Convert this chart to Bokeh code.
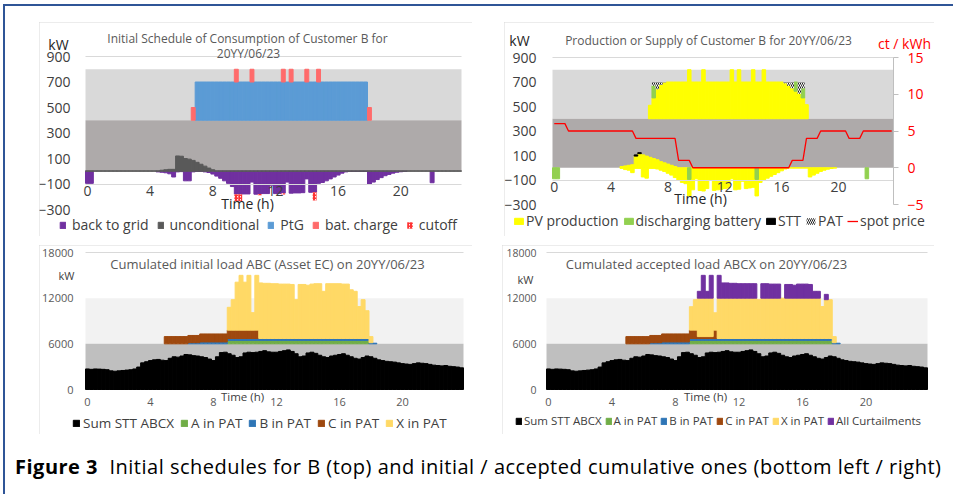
import numpy as np
from bokeh.plotting import figure
from bokeh.models import (Range1d, LinearAxis, FixedTicker, BoxAnnotation, Label, Legend,
                          LegendItem, ColumnDataSource, Div, Spacer, CDSView, BooleanFilter, Grid)
from bokeh.layouts import row, column
from bokeh.embed import file_html
from bokeh.resources import INLINE

FONT = "Open Sans"

# ---------------------------------------------------------------- data
hour_ticks = [0, 4, 8, 12, 16, 20]
slot_hours = [i * 0.25 for i in range(96)]          # 15-minute slots (centre, h)

# --- top left: initial schedule of consumption of customer B (kW)
back_to_grid = [
    -95, -95, 0, 0,   0, 0, 0, 0,   0, 0, 0, 0,   0, 0, 0, 0,
    0, 0, -5, -8,   -12, -20, -45, -5,   -3, -75, -75, -5,   -2, -2, -5, -10,
    -22, -38, -55, -75,   -95, -120, -180, -180,   -178, -178, -85, -180,
    -178, -175, -175, -110,   -175, -175, -172, -85,   -172, -170, -170, -168,
    -60, -165, -165, -95,   -88, -75, -60, -45,   -30, -15, -5, -2,
    -2, -2, -2, -2,   -100, -85, -65, -50,   -35, -25, -15, -8,
    -4, -2, 0, 0,   0, 0, 0, 0,   -90, 0, 0, 0,   0, 0, 0, 0]
unconditional = [
    3, 3, 3, 3,   3, 3, 3, 3,   3, 3, 3, 3,   3, 3, 3, 3,
    3, 3, 3, 8,   12, 15, 15, 120,   118, 100, 95, 85,   70, 55, 40, 25,
    12, 3, 3, 3,   3, 3, 3, 3,   3, 3, 3, 3,   3, 3, 3, 3,
    3, 3, 3, 3,   3, 3, 3, 3,   3, 3, 3, 3,   3, 3, 3, 3,
    3, 3, 3, 3,   3, 3, 3, 3,   3, 3, 3, 3,   3, 3, 3, 3,
    3, 3, 3, 3,   3, 3, 3, 3,   3, 3, 3, 3,   3, 3, 3, 3]
ptg = [
    0, 0, 0, 0,   0, 0, 0, 0,   0, 0, 0, 0,   0, 0, 0, 0,
    0, 0, 0, 0,   0, 0, 0, 0,   0, 0, 0, 0,   300, 300, 300, 300,
    300, 300, 300, 300,   300, 300, 300, 300,   300, 300, 300, 300,   300, 300, 300, 300,
    300, 300, 300, 300,   300, 300, 300, 300,   300, 300, 300, 300,   300, 300, 300, 300,
    300, 300, 300, 300,   300, 300, 300, 300,   0, 0, 0, 0,   0, 0, 0, 0,
    0, 0, 0, 0,   0, 0, 0, 0,   0, 0, 0, 0,   0, 0, 0, 0]
bat_charge = [
    0, 0, 0, 0,   0, 0, 0, 0,   0, 0, 0, 0,   0, 0, 0, 0,
    0, 0, 0, 0,   0, 0, 0, 0,   0, 0, 0, 100,   0, 0, 0, 0,
    0, 0, 0, 0,   0, 0, 100, 0,   0, 0, 100, 0,   0, 0, 0, 0,
    0, 0, 100, 0,   100, 0, 0, 0,   100, 0, 0, 100,   0, 0, 0, 0,
    0, 0, 0, 0,   0, 0, 0, 0,   100, 0, 0, 0,   0, 0, 0, 0,
    0, 0, 0, 0,   0, 0, 0, 0,   0, 0, 0, 0,   0, 0, 0, 0]
cutoff = [
    0, 0, 0, 0,   0, 0, 0, 0,   0, 0, 0, 0,   0, 0, 0, 0,
    0, 0, 0, 0,   0, 0, 0, 0,   0, 0, 0, 0,   0, 0, 0, 0,
    0, 0, 0, 0,   0, 0, -55, -55,   0, 0, 0, 0,   -10, 0, 0, 0,
    0, 0, -10, 0,   0, 0, 0, 0,   0, 0, -65, 0,   0, 0, 0, 0,
    0, 0, 0, 0,   0, 0, 0, 0,   0, 0, 0, 0,   0, 0, 0, 0,
    0, 0, 0, 0,   0, 0, 0, 0,   0, 0, 0, 0,   0, 0, 0, 0]
PANEL_BASE = 400          # kW level where the upper (PtG / PV) band starts

# --- top right: production or supply of customer B
pv_low_pos = [
    0, 0, 0, 0,   0, 0, 0, 0,   0, 0, 0, 0,   0, 0, 0, 0,
    0, 0, 0, 10,   15, 20, 25, 95,   115, 105, 95, 85,   75, 65, 50, 40,
    30, 20, 10, 0,   0, 0, 0, 0,   0, 0, 0, 0,   0, 0, 0, 0,
    0, 0, 0, 0,   0, 0, 0, 0,   0, 0, 0, 0,   0, 0, 0, 0,
    0, 0, 0, 0,   0, 0, 0, 0,   0, 0, 0, 0,   0, 0, 0, 0,
    0, 0, 0, 0,   0, 0, 0, 0,   0, 0, 0, 0,   0, 0, 0, 0]
pv_low_neg = [
    0, 0, 0, 0,   0, 0, 0, 0,   0, 0, 0, 0,   0, 0, 0, 0,
    0, 0, 0, -5,   -15, -20, -40, -5,   -5, -75, -85, -5,   -5, -10, -20, -30,
    -45, -60, -80, -100,   -120, -130, -230, -180,   -90, -185, -190, -170,
    -100, -185, -180, -175,   -170, -165, -90, -180,   -175, -110, -170, -165,
    -160, -230, -120, -100,   -85, -70, -55, -40,   -25, -10, -3, -3,
    -3, -3, -3, -3,   -75, -60, -45, -30,   -20, -12, -6, -3,
    0, 0, 0, 0,   0, 0, 0, 0,   0, 0, 0, 0,   0, 0, 0, 0]
pv_high = [
    0, 0, 0, 0,   0, 0, 0, 0,   0, 0, 0, 0,   0, 0, 0, 0,
    0, 0, 0, 0,   0, 0, 0, 0,   0, 0, 0, 110,   170, 240, 275, 295,
    300, 300, 300, 300,   300, 300, 400, 300,   300, 300, 400, 300,   300, 300, 300, 300,
    300, 300, 400, 300,   400, 300, 300, 300,   400, 300, 300, 400,   300, 300, 300, 300,
    300, 290, 270, 250,   225, 205, 170, 115,   0, 0, 0, 0,   0, 0, 0, 0,
    0, 0, 0, 0,   0, 0, 0, 0,   0, 0, 0, 0,   0, 0, 0, 0]
discharge_low = [
    -90, -90, 0, 0,   0, 0, 0, 0,   0, 0, 0, 0,   0, 0, 0, 0,
    0, 0, 0, 0,   0, 0, 0, 0,   0, 0, 0, 0,   0, 0, 0, 0,
    0, 0, 0, 0,   0, 0, -95, 0,   0, 0, 0, 0,   0, 0, 0, 0,
    0, 0, 0, 0,   0, 0, 0, 0,   0, -95, 0, 0,   0, 0, 0, 0,
    0, 0, 0, 0,   0, 0, 0, 0,   0, 0, 0, 0,   0, 0, 0, 0,
    0, 0, 0, 0,   0, 0, 0, 0,   -90, 0, 0, 0,   0, 0, 0, 0]
discharge_high = [
    0, 0, 0, 0,   0, 0, 0, 0,   0, 0, 0, 0,   0, 0, 0, 0,
    0, 0, 0, 0,   0, 0, 0, 0,   0, 0, 0, 0,   100, 0, 0, 0,
    0, 0, 0, 0,   0, 0, 0, 0,   0, 0, 0, 0,   0, 0, 0, 0,
    0, 0, 0, 0,   0, 0, 0, 0,   0, 0, 0, 0,   0, 0, 0, 0,
    0, 0, 0, 0,   75, 0, 80, 0,   0, 0, 0, 0,   0, 0, 0, 0,
    0, 0, 0, 0,   0, 0, 0, 0,   0, 0, 0, 0,   0, 0, 0, 0]
stt_b = [
    0, 0, 0, 0,   0, 0, 0, 0,   0, 0, 0, 0,   0, 0, 0, 0,
    0, 0, 0, 0,   0, 0, 0, 10,   8, 0, 0, 0,   0, 0, 0, 0,
    0, 0, 0, 0,   0, 0, 0, 0,   0, 0, 0, 0,   0, 0, 0, 0,
    0, 0, 0, 0,   0, 0, 0, 0,   0, 0, 0, 0,   0, 0, 0, 0,
    0, 0, 0, 0,   0, 0, 0, 0,   0, 0, 0, 0,   0, 0, 0, 0,
    0, 0, 0, 0,   0, 0, 0, 0,   0, 0, 0, 0,   0, 0, 0, 0]
pat = [
    0, 0, 0, 0,   0, 0, 0, 0,   0, 0, 0, 0,   0, 0, 0, 0,
    0, 0, 0, 0,   0, 0, 0, 0,   0, 0, 0, 0,   30, 60, 25, 5,
    0, 0, 0, 0,   0, 0, 0, 0,   0, 0, 0, 0,   0, 0, 0, 0,
    0, 0, 0, 0,   0, 0, 0, 0,   0, 0, 0, 0,   0, 0, 0, 0,
    0, 10, 30, 50,   0, 95, 50, 0,   0, 0, 0, 0,   0, 0, 0, 0,
    0, 0, 0, 0,   0, 0, 0, 0,   0, 0, 0, 0,   0, 0, 0, 0]
spot_price = [          # ct / kWh
    6, 6, 6, 6,   5, 5, 5, 5,   5, 5, 5, 5,   5, 5, 5, 5,
    5, 5, 5, 5,   5, 5, 5, 4,   4, 4, 4, 4,   4, 4, 4, 4,
    4, 4, 4, 1,   1, 1, 1, 0,   0, 0, 0, 0,   0, 0, 0, 0,
    0, 0, 0, 0,   0, 0, 0, 0,   0, 0, 0, 0,   0, 0, 0, 0,
    0, 0, 0, 1,   1, 1, 1, 4,   4, 4, 4, 5,   5, 5, 5, 5,
    5, 5, 5, 4,   4, 4, 4, 5,   5, 5, 5, 5,   5, 5, 5, 5]

# --- bottom: cumulated loads (kW)
sum_stt = [
    2700, 2650, 2700, 2680,   2650, 2600, 2450, 2400,   2450, 2500, 2550, 2600,
    2700, 2950, 3500, 3650,   3800, 3900, 3950, 3850,   3800, 4100, 4300, 4250,
    4400, 4600, 4550, 4450,   4400, 4300, 4200, 4000,   3800, 4300, 4850, 4900,
    4700, 4500, 4200, 4300,   4800, 4900, 4850, 4900,   5000, 5100, 4950, 4900,
    4900, 5000, 5100, 5200,   5000, 4700, 4300, 4400,   4800, 4900, 4750, 4500,
    4300, 4200, 4400, 4500,   4600, 4700, 4500, 4300,   4100, 4000, 4200, 4400,
    4300, 4100, 3900, 3800,   3700, 3650, 3600, 3500,   3400, 3350, 3300, 3400,
    3500, 3450, 3400, 3300,   3200, 3150, 3100, 3150,   3050, 3000, 2950, 2850]
a_pat = [
    0, 0, 0, 0,   0, 0, 0, 0,   0, 0, 0, 0,   0, 0, 0, 0,
    0, 0, 0, 0,   0, 0, 0, 0,   0, 0, 0, 0,   0, 0, 0, 0,
    0, 0, 0, 0,   450, 450, 450, 450,   450, 450, 450, 450,   450, 450, 450, 450,
    450, 450, 450, 450,   450, 450, 450, 450,   450, 450, 450, 450,   450, 450, 450, 450,
    450, 450, 450, 450,   450, 450, 450, 450,   0, 0, 0, 0,   0, 0, 0, 0,
    0, 0, 0, 0,   0, 0, 0, 0,   0, 0, 0, 0,   0, 0, 0, 0]
b_pat = [
    0, 0, 0, 0,   0, 0, 0, 0,   0, 0, 0, 0,   0, 0, 0, 0,
    0, 0, 0, 0,   0, 0, 0, 0,   0, 0, 150, 150,   150, 250, 250, 250,
    250, 250, 250, 250,   250, 250, 250, 250,   250, 250, 250, 250,   250, 250, 250, 250,
    250, 250, 250, 250,   250, 250, 250, 250,   250, 250, 250, 250,   250, 250, 250, 250,
    250, 250, 250, 250,   250, 250, 250, 250,   150, 80, 0, 0,   0, 0, 0, 0,
    0, 0, 0, 0,   0, 0, 0, 0,   0, 0, 0, 0,   0, 0, 0, 0]
c_initial = [
    0, 0, 0, 0,   0, 0, 0, 0,   0, 0, 0, 0,   0, 0, 0, 0,
    0, 0, 0, 0,   950, 950, 950, 950,   950, 950, 950, 950,   950, 1050, 1050, 1050,
    1050, 1050, 1050, 1050,   1100, 1100, 1100, 1100,   1100, 1100, 1100, 1100,   0, 0, 0, 0,
    0, 0, 0, 0,   0, 0, 0, 0,   0, 0, 0, 0,   0, 0, 0, 0,
    0, 0, 0, 0,   0, 0, 0, 0,   0, 0, 0, 0,   0, 0, 0, 0,
    0, 0, 0, 0,   0, 0, 0, 0,   0, 0, 0, 0,   0, 0, 0, 0]
x_initial = [
    0, 0, 0, 0,   0, 0, 0, 0,   0, 0, 0, 0,   0, 0, 0, 0,
    0, 0, 0, 0,   0, 0, 0, 0,   0, 0, 0, 0,   0, 0, 0, 0,
    0, 0, 0, 0,   3000, 4000, 6300, 7200,   6300, 7200, 2300, 7200,   7300, 7250, 7250, 7200,
    7200, 7150, 7150, 7150,   7100, 5100, 7100, 7100,   7000, 7150, 7200, 7200,   6200, 7200, 7200, 7200,
    7200, 7150, 7150, 6400,   6200, 4200, 5100, 3650,   800, 0, 0, 0,   0, 0, 0, 0,
    0, 0, 0, 0,   0, 0, 0, 0,   0, 0, 0, 0,   0, 0, 0, 0]
c_accepted = [
    0, 0, 0, 0,   0, 0, 0, 0,   0, 0, 0, 0,   0, 0, 0, 0,
    0, 0, 0, 0,   950, 950, 950, 950,   950, 950, 950, 950,   950, 1050, 1050, 1050,
    1050, 1050, 1050, 1050,   1100, 1100, 250, 250,   250, 250, 1100, 0,   0, 0, 0, 0,
    0, 0, 0, 0,   0, 0, 0, 0,   0, 0, 0, 0,   0, 0, 0, 0,
    0, 0, 0, 0,   0, 0, 0, 0,   0, 0, 0, 0,   0, 0, 0, 0,
    0, 0, 0, 0,   0, 0, 0, 0,   0, 0, 0, 0,   0, 0, 0, 0]
x_accepted = [
    0, 0, 0, 0,   0, 0, 0, 0,   0, 0, 0, 0,   0, 0, 0, 0,
    0, 0, 0, 0,   0, 0, 0, 0,   0, 0, 0, 0,   0, 0, 0, 0,
    0, 0, 0, 0,   3080, 4000, 5050, 5050,   5050, 5050, 2280, 5300,   5300, 5300, 5300, 5300,
    5300, 5300, 5300, 5300,   5300, 5100, 5300, 5300,   5300, 5300, 5300, 5300,   5300, 5300, 5300, 5300,
    5300, 5300, 5300, 5300,   5300, 4200, 5100, 5100,   800, 0, 0, 0,   0, 0, 0, 0,
    0, 0, 0, 0,   0, 0, 0, 0,   0, 0, 0, 0,   0, 0, 0, 0]
curtailments = [
    0, 0, 0, 0,   0, 0, 0, 0,   0, 0, 0, 0,   0, 0, 0, 0,
    0, 0, 0, 0,   0, 0, 0, 0,   0, 0, 0, 0,   0, 0, 0, 0,
    0, 0, 0, 0,   0, 0, 900, 3000,   900, 3000, 0, 3000,   2000, 2000, 1950, 1950,
    1900, 1900, 1900, 1900,   1900, 0, 1900, 1900,   1850, 1850, 1850, 0,   1800, 1800, 1700, 1850,
    1850, 1850, 1800, 900,   900, 0, 700, 0,   0, 0, 0, 0,   0, 0, 0, 0,
    0, 0, 0, 0,   0, 0, 0, 0,   0, 0, 0, 0,   0, 0, 0, 0]
STACK_BASE = 6000         # kW level where the PAT loads are stacked

# ---------------------------------------------------------------- helpers
SLOT_W = 0.25
X0, X1 = -0.125, 23.875    # extent of the 96 slots


def make_fig(w, h, pl, pr, pt, pb, y0, y1):
    """Canvas w x h; the plot area sits pl/pr/pt/pb px inside it.
    The frame fills the whole canvas so that titles and legends are not clipped."""
    sx = (w - pl - pr) / (X1 - X0)
    sy = (h - pt - pb) / (y1 - y0)
    p = figure(width=w, height=h, min_border=0,
               x_range=Range1d(X0 - pl / sx, X1 + pr / sx),
               y_range=Range1d(y0 - pb / sy, y1 + pt / sy),
               x_axis_location=None, y_axis_location=None, title_location=None,
               output_backend="svg", toolbar_location=None, tools="")
    p.outline_line_color = None
    p.center = [r for r in p.center if not isinstance(r, Grid)]
    p.styles = {"outline": "1px solid #D9D9D9", "outline-offset": "-1px"}
    return p


def bars(p, src, bottom, top, mask_col, color, **kw):
    view = CDSView(filter=BooleanFilter([bool(v != 0) for v in src.data[mask_col]]))
    style = dict(fill_color=color, line_color=color, line_width=1)
    style.update(kw)
    return p.vbar(x="t", width=SLOT_W, bottom=bottom, top=top, source=src, view=view, **style)


def label(p, x, y, text, size, color):
    p.add_layout(Label(x=x, y=y, x_units="screen", y_units="screen", text=text,
                       text_font=FONT, text_font_size=size, text_color=color,
                       text_align="center", text_baseline="middle"))


def legend(p, items, loc, size, gw, gh, standoff, spacing, color="#404040"):
    lg = Legend(items=[LegendItem(label=t, renderers=[r]) for t, r in items],
                orientation="horizontal", location=loc, padding=0, margin=0,
                glyph_width=gw, glyph_height=gh, label_standoff=standoff, spacing=spacing,
                label_height=14, border_line_color=None, background_fill_alpha=0,
                label_text_font=FONT, label_text_font_size=size, label_text_color=color)
    p.add_layout(lg, "center")


def time_axis(p, fixed, standoff=2, size="14px", color="#404040", line=None):
    p.add_layout(LinearAxis(
        ticker=FixedTicker(ticks=hour_ticks), fixed_location=fixed, bounds=(X0, X1),
        axis_line_color=line, major_tick_line_color=None, minor_tick_line_color=None,
        major_tick_out=0, major_tick_in=0, major_label_standoff=standoff,
        major_label_text_font=FONT, major_label_text_font_size=size,
        major_label_text_color=color), "below")


def value_axis(p, ticks, standoff, size, color, side="left", rng="default", line=None, tick_out=0):
    p.add_layout(LinearAxis(
        ticker=FixedTicker(ticks=ticks), y_range_name=rng,
        fixed_location=X0 if side == "left" else X1, bounds=(min(ticks), max(ticks)),
        axis_line_color=line, major_tick_line_color=line, minor_tick_line_color=None,
        major_tick_out=tick_out, major_tick_in=0, major_label_standoff=standoff,
        major_label_text_font=FONT, major_label_text_font_size=size,
        major_label_text_color=color), side)


def grid_line(p, level):
    """A single light horizontal gridline across the plot area."""
    p.add_layout(LinearAxis(ticker=FixedTicker(ticks=[]), fixed_location=level, bounds=(X0, X1),
                            axis_line_color="#D9D9D9", major_tick_line_color=None,
                            minor_tick_line_color=None, major_tick_out=0, major_tick_in=0,
                            major_label_text_alpha=0), "below")


def band(p, lo, hi, color):
    p.add_layout(BoxAnnotation(left=X0, right=X1, bottom=lo, top=hi, fill_color=color,
                               fill_alpha=1, line_color=None, level="underlay"))


# ---------------------------------------------------------------- panel 1 (canvas x 39, y 22)
s1 = ColumnDataSource(dict(t=slot_hours))
btg = np.array(back_to_grid, float)
s1.data.update(
    btg=btg, zero=np.zeros(96), unc=np.array(unconditional, float),
    cut_bot=btg + np.array(cutoff, float), cut=np.array(cutoff, float),
    ptg_bot=np.full(96, PANEL_BASE, float), ptg_top=PANEL_BASE + np.array(ptg, float),
    ptg=np.array(ptg, float),
    bat_top=PANEL_BASE + np.array(ptg, float) + np.array(bat_charge, float),
    bat=np.array(bat_charge, float))

p1 = make_fig(433, 214, 46, 11, 34, 27, -300, 900)
band(p1, 400, 800, "#D9D9D9")
band(p1, 0, 400, "#AEAAAA")
grid_line(p1, 900)
r_btg = bars(p1, s1, "btg", "zero", "btg", "#7030A0")
r_unc = bars(p1, s1, "zero", "unc", "unc", "#595959")
r_cut = bars(p1, s1, "cut_bot", "btg", "cut", "white", line_color=None,
             hatch_pattern="right_diagonal_line", hatch_color="#FF3333", hatch_scale=3, hatch_weight=1.5)
r_ptg = bars(p1, s1, "ptg_bot", "ptg_top", "ptg", "#5B9BD5")
r_bat = bars(p1, s1, "ptg_top", "bat_top", "bat", "#FF6B6B")
value_axis(p1, [-300, -100, 100, 300, 500, 700, 900], 15, "14px", "#404040")
time_axis(p1, fixed=-100, standoff=2, line="#D9D9D9")
label(p1, 208, 198, "Initial Schedule of Consumption of Customer B for", "12px", "#595959")
label(p1, 209, 183, "20YY/06/23", "12px", "#595959")
label(p1, 19, 192, "kW", "14px", "#262626")
label(p1, 208, 33, "Time (h)", "14px", "#262626")
legend(p1, [("back to grid", r_btg), ("unconditional", r_unc), ("PtG", r_ptg),
            ("bat. charge", r_bat), ("cutoff", r_cut)],
       (20, 2), "14px", 7, 8, 6, 8)

# ---------------------------------------------------------------- panel 2 (canvas x 504, y 22)
s2 = ColumnDataSource(dict(t=slot_hours))
pvh = PANEL_BASE + np.array(pv_high, float)
dh = pvh + np.array(discharge_high, float)
s2.data.update(
    zero=np.zeros(96), pos=np.array(pv_low_pos, float), neg=np.array(pv_low_neg, float),
    stt_top=np.array(pv_low_pos, float) + np.array(stt_b, float), stt=np.array(stt_b, float),
    dlow=np.array(discharge_low, float),
    base=np.full(96, PANEL_BASE, float), pvh=pvh, pvh_v=np.array(pv_high, float),
    dh=dh, dh_v=np.array(discharge_high, float),
    pat_top=dh + np.array(pat, float), pat=np.array(pat, float),
    price=np.array(spot_price, float))

p2 = make_fig(430, 214, 48, 41, 35, 32, -300, 900)
# price axis: -5..15 ct/kWh spans the same plot area as -300..900 kW
kw_per_ct = 1200 / 20
p2.extra_y_ranges = {"price": Range1d(-5 + (p2.y_range.start + 300) / kw_per_ct,
                                      -5 + (p2.y_range.end + 300) / kw_per_ct)}
band(p2, 400, 800, "#D9D9D9")
band(p2, 0, 400, "#AEAAAA")
grid_line(p2, 900)
r_neg = bars(p2, s2, "neg", "zero", "neg", "#FFFF00")
r_pos = bars(p2, s2, "zero", "pos", "pos", "#FFFF00")
r_stt2 = bars(p2, s2, "pos", "stt_top", "stt", "black")
r_dlow = bars(p2, s2, "dlow", "zero", "dlow", "#92D050")
r_pvh = bars(p2, s2, "base", "pvh", "pvh_v", "#FFFF00")
r_dh = bars(p2, s2, "pvh", "dh", "dh_v", "#92D050")
r_pat = bars(p2, s2, "dh", "pat_top", "pat", "white", line_color=None,
             hatch_pattern="left_diagonal_line", hatch_color="#202020", hatch_scale=4, hatch_weight=1.0)
r_price = p2.line(x="t", y="price", source=s2, y_range_name="price", line_color="#FF0000", line_width=1.3)
value_axis(p2, [-300, -100, 100, 300, 500, 700, 900], 16, "14px", "#404040")
value_axis(p2, [-5, 0, 5, 10, 15], 9, "14px", "#FF0000", side="right", rng="price",
           line="#BFBFBF", tick_out=5)
time_axis(p2, fixed=-100, standoff=2, line="#D9D9D9")
label(p2, 204, 196, "Production or Supply of Customer B for 20YY/06/23", "12px", "#595959")
label(p2, 15, 196, "kW", "14px", "#262626")
label(p2, 400, 193, "ct / kWh", "14px", "#FF0000")
label(p2, 196, 38, "Time (h)", "14px", "#262626")
legend(p2, [("PV production", r_pvh), ("discharging battery", r_dh), ("STT", r_stt2),
            ("PAT", r_pat), ("spot price", r_price)],
       (9, 6), "14px", 11, 8, 2, 4)


# ---------------------------------------------------------------- panels 3 & 4 (canvas y 245)
def cumulated(c_vals, x_vals, curt=None):
    a = np.array(a_pat, float)
    b = np.array(b_pat, float)
    c = np.array(c_vals, float)
    x = np.array(x_vals, float)
    l0 = np.full(96, STACK_BASE, float)
    la = l0 + a
    lb = la + b
    lc = lb + c
    lx = lc + x
    d = dict(t=slot_hours, zero=np.zeros(96), stt=np.array(sum_stt, float),
             l0=l0, la=la, lb=lb, lc=lc, lx=lx, a=a, b=b, c=c, x=x)
    if curt is not None:
        d["cu"] = np.array(curt, float)
        d["lcu"] = lx + d["cu"]
    return ColumnDataSource(d)


def cumulated_panel(src, w, pl, pr, title, title_x, kw_xy, time_x, leg_loc, leg_size, gw, so, sp,
                    tick_size="11px", tick_standoff=12):
    p = make_fig(w, 189, pl, pr, 7, 45, 0, 18000)
    band(p, 6000, 12000, "#F2F2F2")
    band(p, 0, 6000, "#BFBFBF")
    grid_line(p, 18000)
    items = [("Sum STT ABCX", bars(p, src, "zero", "stt", "stt", "black")),
             ("A in PAT", bars(p, src, "l0", "la", "a", "#70AD47")),
             ("B in PAT", bars(p, src, "la", "lb", "b", "#2E75B6")),
             ("C in PAT", bars(p, src, "lb", "lc", "c", "#9E480E")),
             ("X in PAT", bars(p, src, "lc", "lx", "x", "#FFD966"))]
    if "cu" in src.data:
        items.append(("All Curtailments", bars(p, src, "lx", "lcu", "cu", "#7030A0")))
    value_axis(p, [0, 6000, 12000, 18000], tick_standoff, tick_size, "#595959")
    time_axis(p, fixed=0, standoff=8, size="11px", color="#595959")
    label(p, title_x, 171, title, "13px", "#595959")
    label(p, kw_xy[0], kw_xy[1], "kW", "11px", "#404040")
    label(p, time_x, 38, "Time (h)", "11.5px", "#404040")
    legend(p, items, leg_loc, leg_size, gw, 8, so, sp)
    return p


p3 = cumulated_panel(cumulated(c_initial, x_initial), 433, 46, 9,
                     "Cumulated initial load ABC (Asset EC) on 20YY/06/23", 228, (27, 159), 203,
                     (33, 2), "13.5px", 8, 3, 6)
# bottom-right canvas starts at x = 502
p4 = cumulated_panel(cumulated(c_accepted, x_accepted, curtailments), 432, 44, 7,
                     "Cumulated accepted load ABCX on 20YY/06/23", 204, (23, 155), 203,
                     (13, 6), "11.5px", 7, 2, 3, tick_size="10.5px", tick_standoff=10)

# ---------------------------------------------------------------- page layout
BLUE = "#2F5597"
caption = Div(text='<div style="font-family:\'Open Sans\'; font-size:20px; letter-spacing:0.5px; '
                   'color:#000; white-space:nowrap; line-height:26px"><b>Figure 3</b>&nbsp;&nbsp;'
                   'Initial schedules for B (top) and initial / accepted cumulative ones '
                   '(bottom left / right)</div>',
              width=935, height=26, margin=0)
top_line = Div(text="", width=950, height=2, margin=0, styles={"background-color": BLUE})
left_line = Div(text="", width=2, height=488, margin=0, styles={"background-color": BLUE})

inner = column(
    Spacer(width=10, height=16),
    row(Spacer(width=34, height=10), p1, Spacer(width=32, height=10), p2),
    Spacer(width=10, height=9),
    row(Spacer(width=34, height=10), p3, Spacer(width=30, height=10), p4),
    Spacer(width=10, height=20),
    row(Spacer(width=10, height=10), caption),
)
root = column(Spacer(width=10, height=4),
              row(Spacer(width=3, height=10),
                  column(top_line, row(left_line, inner))))

open("out.html", "w").write(file_html(root, INLINE))
